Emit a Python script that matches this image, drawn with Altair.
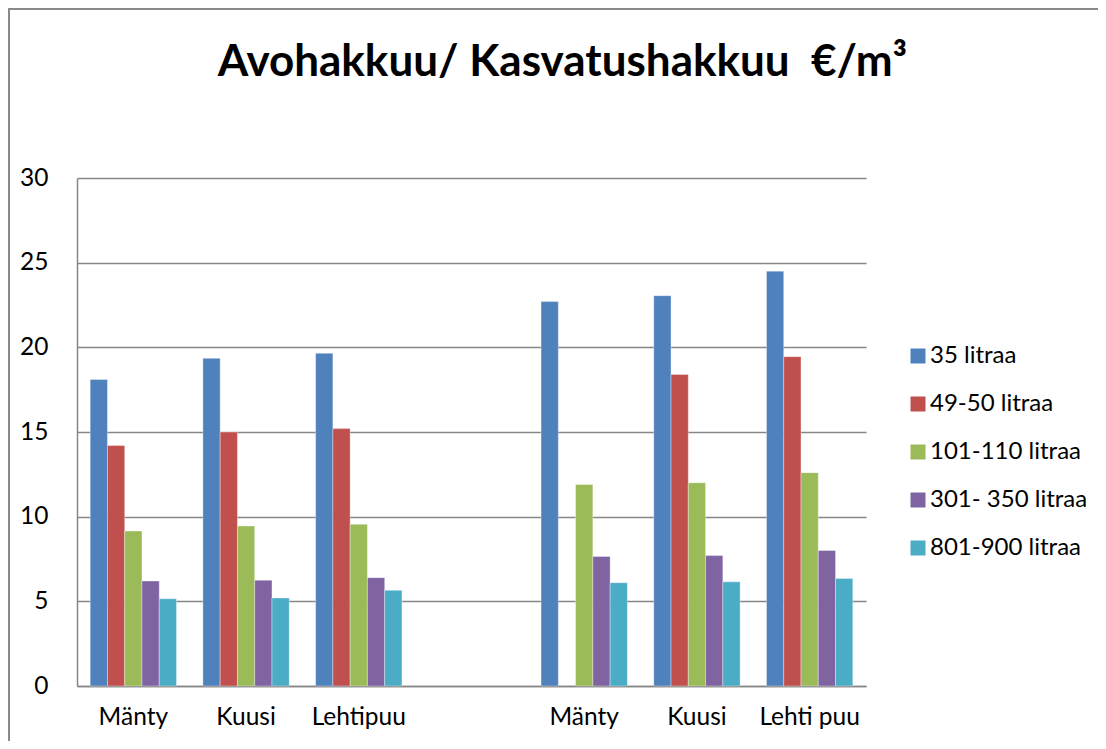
import json
import altair as alt
import pandas as pd

# ---- data ----
categories = ["Mänty", "Kuusi", "Lehtipuu", "", "Mänty", "Kuusi", "Lehti puu"]
series_names = ["35 litraa", "49-50 litraa", "101-110 litraa", "301- 350 litraa", "801-900 litraa"]
s35 = [18.1, 19.35, 19.65, None, 22.7, 23.05, 24.5]
s49_50 = [14.2, 15.0, 15.2, None, None, 18.4, 19.45]
s101_110 = [9.15, 9.45, 9.55, None, 11.9, 12.0, 12.6]
s301_350 = [6.2, 6.25, 6.4, None, 7.65, 7.7, 8.0]
s801_900 = [5.15, 5.2, 5.65, None, 6.1, 6.15, 6.35]
colors = ["#4F81BD", "#C0504D", "#9BBB59", "#8064A2", "#4BACC6"]
y_ticks = [0, 5, 10, 15, 20, 25, 30]

series_values = [s35, s49_50, s101_110, s301_350, s801_900]
keys = [f"g{i}" for i in range(len(categories))]
rows = []
for name, vals in zip(series_names, series_values):
    for k, v in zip(keys, vals):
        if v is not None:
            rows.append({"key": k, "series": name, "value": v})
df = pd.DataFrame(rows)

label_map = json.dumps(dict(zip(keys, categories)), ensure_ascii=False)
label_expr = f"{label_map}[datum.value]"

FONT = "Lato"
GRID = "#868686"

# chart-area border (decoration, like the spreadsheet chart frame): thin filled strips
one = pd.DataFrame({"f": [0]})
frame_top = alt.Chart(one).mark_rect(fill="#898989", strokeWidth=0).encode(
    x=alt.value(-69), x2=alt.value(1021), y=alt.value(-170), y2=alt.value(-168)
)
frame_left = alt.Chart(one).mark_rect(fill="#898989", strokeWidth=0).encode(
    x=alt.value(-69), x2=alt.value(-67), y=alt.value(-170), y2=alt.value(563)
)

bars = alt.Chart(df).mark_bar(stroke="#ffffff", strokeWidth=0.6, strokeOpacity=0.6).encode(
    x=alt.X("key:N", sort=keys,
            scale=alt.Scale(domain=keys, paddingInner=0.234, paddingOuter=0.117),
            axis=alt.Axis(title=None, labelExpr=label_expr, labelAngle=0, ticks=False,
                          labelPadding=19, labelFontSize=24.5, labelFont=FONT, labelColor="#000000",
                          domainColor=GRID, domainWidth=1.5, grid=False)),
    xOffset=alt.XOffset("series:N", sort=series_names,
                        scale=alt.Scale(domain=series_names, paddingInner=0, paddingOuter=0)),
    y=alt.Y("value:Q",
            scale=alt.Scale(domain=[0, 30], nice=False),
            axis=alt.Axis(title=None, values=y_ticks, ticks=False, labelPadding=29,
                          labelFontSize=24.5, labelFont=FONT, labelColor="#000000",
                          domainColor=GRID, domainWidth=1.5,
                          grid=True, gridColor=GRID, gridWidth=1.5)),
    color=alt.Color("series:N", sort=series_names,
                    scale=alt.Scale(domain=series_names, range=colors),
                    legend=alt.Legend(title=None, orient="none", legendX=829, legendY=166,
                                      symbolType="square", symbolSize=225,
                                      symbolStrokeWidth=0, labelFont=FONT, labelFontSize=24,
                                      labelColor="#000000", rowPadding=24, labelOffset=0)),
)

chart = alt.layer(frame_top, frame_left, bars).properties(
    width=789,
    height=508,
    title=alt.TitleParams(
        text="Avohakkuu/ Kasvatushakkuu\u00a0\u00a0€/m³",
        font=FONT, fontSize=44, fontWeight="bold", color="#000000",
        anchor="middle", frame="group", dx=91, offset=-77,
    ),
    autosize=alt.AutoSizeParams(type="none"),
    padding={"left": 69, "top": 170, "right": 232, "bottom": 55},
).configure_view(strokeWidth=0, strokeOpacity=0)

chart.save("out.html", embed_options={"renderer": "svg", "actions": False})
